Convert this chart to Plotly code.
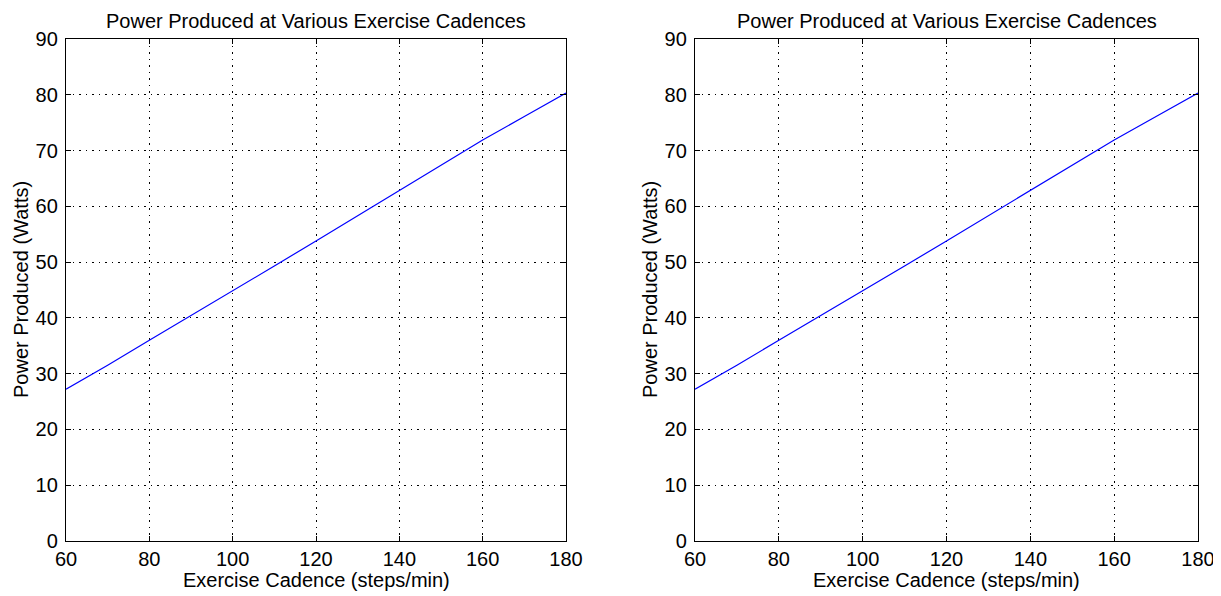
import plotly.graph_objects as go

cadence = [60, 70, 80, 90, 100, 110, 120, 130, 140, 150, 160, 170, 180]
power = [27.2, 31.5, 36.0, 40.4, 44.9, 49.3, 53.8, 58.3, 62.9, 67.4, 71.9, 76.1, 80.3]

title_text = "Power Produced at Various Exercise Cadences"
x_label = "Exercise Cadence (steps/min)"
y_label = "Power Produced (Watts)"
x_ticks = [60, 80, 100, 120, 140, 160, 180]
y_ticks = [0, 10, 20, 30, 40, 50, 60, 70, 80, 90]

# page body has an 8px margin; work in screen pixels and shift
OFF = 8
W, H = 1221 - OFF, 596 - OFF
FONT = "Liberation Sans"
FS = 20


def px_x(x):
    return (x - OFF) / W


def px_y(y):
    return 1 - (y - OFF) / H


fig = go.Figure()
for i in (1, 2):
    fig.add_trace(go.Scatter(
        x=cadence, y=power, mode="lines",
        line=dict(color="#0000FF", width=1.2),
        xaxis="x" if i == 1 else "x2", yaxis="y" if i == 1 else "y2",
        showlegend=False, hoverinfo="x+y",
    ))

plots = [(66, 566), (695, 1198)]
top, bottom = 39, 541
xdom = [(px_x(a), px_x(b)) for a, b in plots]
ydom = (px_y(bottom), px_y(top))

axis_common = dict(
    showline=True, linecolor="black", linewidth=1.3, mirror="ticks",
    ticks="inside", ticklen=5, tickcolor="black", tickwidth=1,
    showgrid=True, gridcolor="black", gridwidth=1, griddash="1.5px,5px",
    zeroline=False, automargin=False,
    tickfont=dict(family=FONT, size=FS, color="black"),
)

layout = dict(
    width=W, height=H, margin=dict(l=0, r=0, t=0, b=0, autoexpand=False),
    paper_bgcolor="white", plot_bgcolor="white",
    font=dict(family=FONT, color="black"),
)
for i in (1, 2):
    sfx = "" if i == 1 else "2"
    layout["xaxis" + sfx] = dict(
        axis_common, domain=list(xdom[i - 1]), range=[60, 180],
        tickvals=x_ticks, anchor="y" + sfx,
    )
    layout["yaxis" + sfx] = dict(
        axis_common, domain=list(ydom), range=[0, 90],
        tickvals=y_ticks, anchor="x" + sfx, ticklabelstandoff=3,
    )

fig.update_layout(**layout)

for i, (a, b) in enumerate(plots):
    cx = px_x((a + b) / 2)
    # subplot title
    fig.add_annotation(
        text=title_text, x=cx, y=px_y(21), xref="paper", yref="paper",
        showarrow=False, font=dict(family=FONT, size=FS, color="black"),
        xanchor="center", yanchor="middle",
    )
    # x-axis label
    fig.add_annotation(
        text=x_label, x=cx, y=px_y(580), xref="paper", yref="paper",
        showarrow=False, font=dict(family=FONT, size=FS, color="black"),
        xanchor="center", yanchor="middle",
    )
    # y-axis label
    fig.add_annotation(
        text=y_label, x=px_x(a - 45), y=px_y((top + bottom) / 2),
        xref="paper", yref="paper", textangle=-90,
        showarrow=False, font=dict(family=FONT, size=FS, color="black"),
        xanchor="center", yanchor="middle",
    )

fig.write_html("out.html")
